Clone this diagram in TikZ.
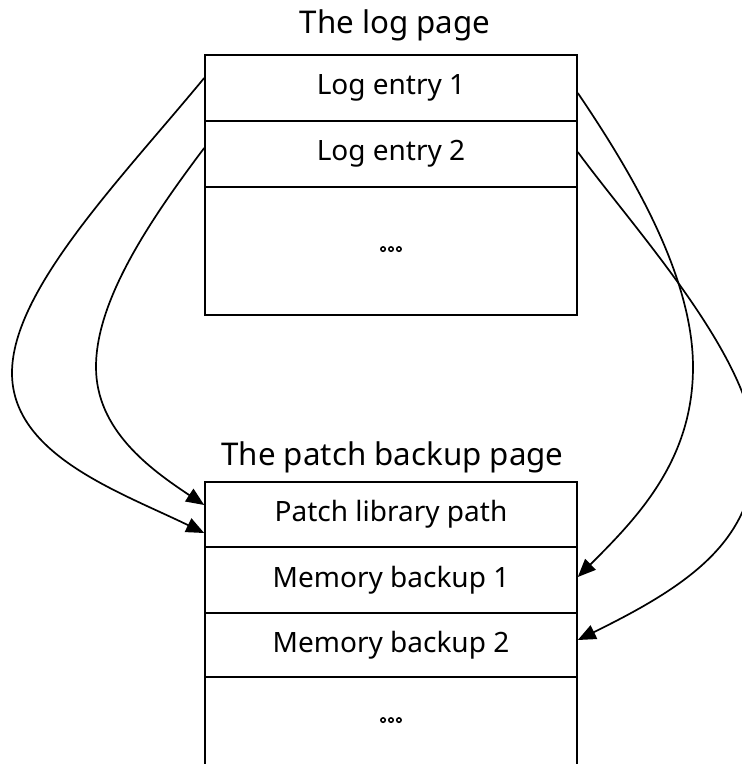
\documentclass[tikz,border=0pt]{standalone}
\usepackage{fontspec}
\setmainfont{Noto Sans}
\newfontfamily\symfont[FakeBold=6]{DejaVu Sans}
\usetikzlibrary{arrows.meta,calc}

\tikzset{
  cell/.style={draw, line width=1.6pt, minimum width=372pt, inner sep=0pt,
    font=\fontsize{28}{33}\selectfont},
  title/.style={font=\fontsize{31.3}{36}\selectfont, inner sep=0pt, anchor=base},
  link/.style={line width=1.7pt, -{Triangle[length=18pt,width=15pt]}},
}
\newcommand{\ringdots}{{\symfont\fontsize{17}{19}\selectfont ◦\kern-2.1pt◦\kern-2.1pt◦}}

\begin{document}
\begin{tikzpicture}[x=1pt, y=-1pt]
  \useasboundingbox (0,0) rectangle (742,764);

  % log page
  \node[title] (t1) at (395,33) {The log page};
  \node[cell, minimum height=66pt]  (le1) at (391,88)  {Log entry 1};
  \node[cell, minimum height=66pt]  (le2) at (391,154) {Log entry 2};
  \node[cell, minimum height=128pt] (ld)  at (391,251) {\ringdots};

  % patch backup page
  \node[title] (t2) at (392.5,465) {The patch backup page};
  \node[cell, minimum height=65pt]  (pl)  at (391,514.5) {Patch library path};
  \node[cell, minimum height=66pt]  (mb1) at (391,580)   {Memory backup 1};
  \node[cell, minimum height=64pt]  (mb2) at (391,645)   {Memory backup 2};
  \node[cell, minimum height=90pt]  (bd)  at (391,722)   {\ringdots};

  % log entries to the patch library path (left side)
  \draw[link] ($(le1.west)+(0,-10)$) .. controls (120,180) and (12,290) .. (12,373)
              .. controls (12,455) and (120,492) .. ($(pl.west)+(0,18.5)$);
  \draw[link] ($(le2.west)+(0,-6)$) .. controls (150,220) and (96,300) .. (96,367)
              .. controls (96,430) and (150,469) .. ($(pl.west)+(0,-9.5)$);

  % log entries to the memory backups (right side)
  \draw[link] ($(le1.east)+(0,5)$) .. controls (630,170) and (693,275) .. (693,367)
              .. controls (693,460) and (638,517) .. ($(mb1.east)+(0,-3)$);
  \draw[link] ($(le2.east)+(0,-2)$) .. controls (635,230) and (755,360) .. (755,450)
              .. controls (755,540) and (690,585) .. ($(mb2.east)+(0,-5)$);
\end{tikzpicture}
\end{document}
